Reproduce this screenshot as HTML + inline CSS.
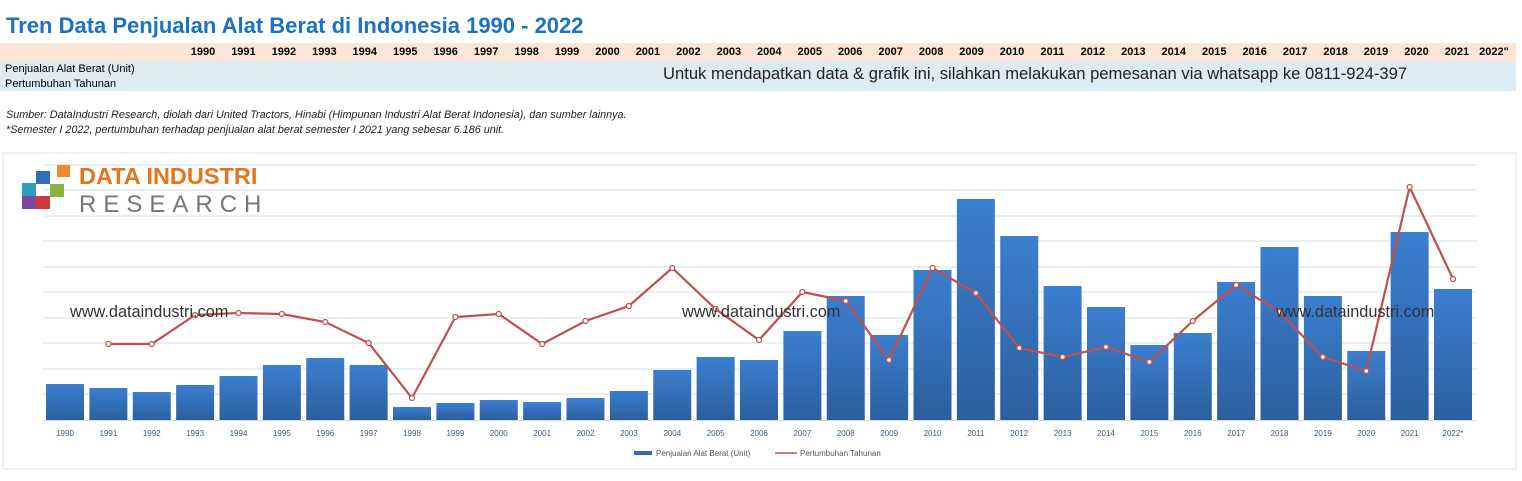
<!DOCTYPE html>
<html><head><meta charset="utf-8"><style>
body{margin:0;width:1522px;height:481px;background:#fff;font-family:"Liberation Sans",sans-serif;position:relative;overflow:hidden}
.t{position:absolute;left:6px;top:13px;font-size:22px;font-weight:bold;color:#1a72c4;white-space:nowrap}
.r1{position:absolute;left:0;top:43px;width:1516px;height:18px;background:#fce4d6}
.r2{position:absolute;left:0;top:61px;width:1516px;height:30px;background:#ddebf4}
.yr{position:absolute;top:46px;font-size:11px;font-weight:bold;width:40px;text-align:center}
.s{position:absolute;font-size:11px;color:#000}
.n{position:absolute;font-size:10.8px;font-style:italic;color:#222;left:6px;white-space:nowrap}
</style></head><body>
<div class="t">Tren Data Penjualan Alat Berat di Indonesia 1990 - 2022</div>
<div class="r1"></div><div class="r2"></div>
<div id="yrs"></div>
<div class="s" style="left:5px;top:63px">Penjualan Alat Berat (Unit)</div>
<div class="s" style="left:5px;top:78px">Pertumbuhan Tahunan</div>
<div class="s" style="left:663px;top:64px;font-size:16.6px;color:#222;white-space:nowrap">Untuk mendapatkan data &amp; grafik ini, silahkan melakukan pemesanan via whatsapp ke 0811-924-397</div>
<div class="n" style="top:109px">Sumber: DataIndustri Research, diolah dari United Tractors, Hinabi (Himpunan Industri Alat Berat Indonesia), dan sumber lainnya.</div>
<div class="n" style="top:124px">*Semester I 2022, pertumbuhan terhadap penjualan alat berat semester I 2021 yang sebesar 6.186 unit.</div>
<svg id="c" style="position:absolute;left:0;top:0" width="1522" height="481"></svg>
<script>
var ys=[];for(var i=0;i<33;i++)ys.push(i==32?"2022*":String(1990+i));
var h="";for(var i=0;i<33;i++){var x=i==32?1494:203+i*40.45;h+='<div class="yr" style="left:'+(x-20)+'px">'+(i==32?'2022"':ys[i])+'</div>'}
document.getElementById('yrs').innerHTML=h;
var bt=[384,388,392,385,376,365,358,365,407,403,400,402,398,391,370,357,360,331,296,335,270,199,236,286,307,345,333,282,247,296,351,232,289];
var lp=[null,344,344,315,313,314,322,343,398,317,314,344,321,306,268,309,340,292,301,360,268,293,348,357,347,362,321,285,312,357,371,187,279];
var s='<defs><linearGradient id="g" x1="0" y1="0" x2="0" y2="1"><stop offset="0" stop-color="#3b7fd0"/><stop offset="1" stop-color="#2b5f9e"/></linearGradient></defs>';
s+='<rect x="3" y="153" width="1513" height="316" fill="none" stroke="#d6e3f0"/>';
[165,190,216,241,267,292,318,343,369,394].forEach(function(y){s+='<line x1="43" x2="1477" y1="'+y+'" y2="'+y+'" stroke="#d9e5f2" stroke-width="1.3"/>'});
s+='<line x1="43" x2="1477" y1="420.5" y2="420.5" stroke="#d9d9d9"/>';
for(var i=0;i<33;i++){var cx=65+i*43.375;s+='<rect x="'+(cx-19)+'" y="'+bt[i]+'" width="38" height="'+(420-bt[i])+'" fill="url(#g)"/>';
s+='<text x="'+cx+'" y="436" font-size="8" fill="#3a5a8a" text-anchor="middle" font-family="Liberation Sans">'+ys[i]+'</text>'}
var p="";for(var i=1;i<33;i++)p+=(i==1?"M":"L")+(65+i*43.375)+","+lp[i];
s+='<path d="'+p+'" fill="none" stroke="#c0504d" stroke-width="2.2"/>';
for(var i=1;i<33;i++)s+='<circle cx="'+(65+i*43.375)+'" cy="'+lp[i]+'" r="2.5" fill="#fff" stroke="#c0504d" stroke-width="1.2"/>';
['70','682','1276'].forEach(function(x){s+='<text x="'+x+'" y="317" font-size="16.3" fill="#333" font-family="Liberation Sans">www.dataindustri.com</text>'});
s+='<rect x="634" y="451" width="18" height="4" fill="#2f6cb5"/><text x="656" y="456" font-size="8" fill="#555" font-family="Liberation Sans">Penjualan Alat Berat (Unit)</text>';
s+='<line x1="775" x2="797" y1="453" y2="453" stroke="#c0504d" stroke-width="1.5"/><text x="800" y="456" font-size="8" fill="#555" font-family="Liberation Sans">Pertumbuhan Tahunan</text>';
s+='<rect x="22" y="183" width="14" height="13" fill="#2a9fc0"/><rect x="36" y="171" width="14" height="13" fill="#2e6fb7"/><rect x="50" y="184" width="14" height="13" fill="#8bb43c"/><rect x="22" y="196" width="14" height="13" fill="#7b4a9a"/><rect x="36" y="196" width="14" height="13" fill="#d0383c"/><rect x="57" y="165" width="13" height="12" fill="#ee8a2a"/>';
s+='<text x="79" y="184" font-size="23.5" font-weight="bold" fill="#e8731a" font-family="Liberation Sans">DATA INDUSTRI</text>';
s+='<text x="79" y="212" font-size="24" fill="#777" letter-spacing="7" font-family="Liberation Sans">RESEARCH</text>';
document.getElementById('c').innerHTML=s;
</script>
</body></html>
